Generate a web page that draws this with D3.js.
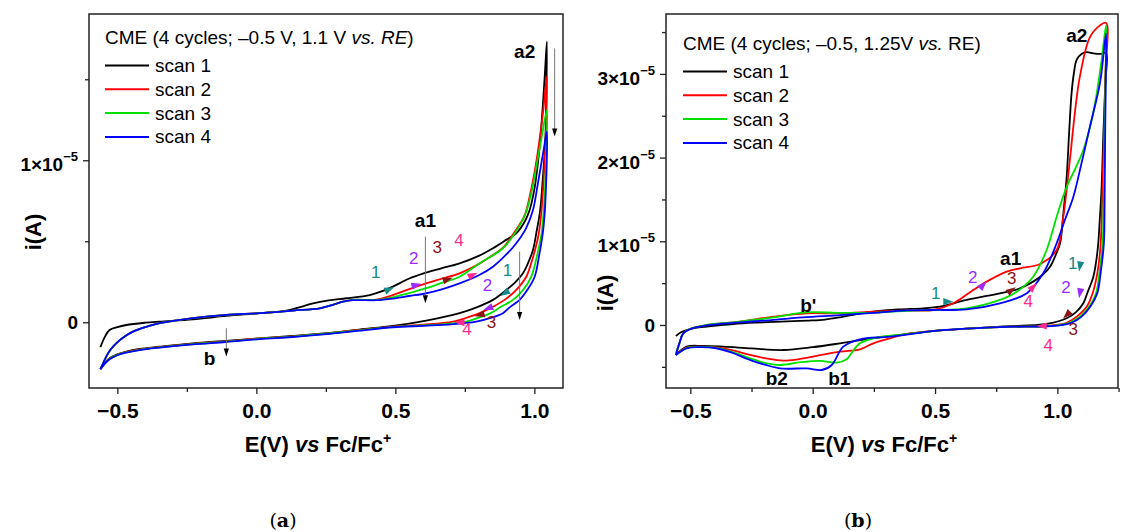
<!DOCTYPE html>
<html><head><meta charset="utf-8">
<script src="https://cdn.jsdelivr.net/npm/d3@7"></script>
<style>body{margin:0;background:#fff}svg{display:block}</style>
</head><body>
<svg id="chart" width="1123" height="532"></svg>
<script>
// ---------- DATA (current i in units of 1e-5 A, potential E in V vs Fc/Fc+) ----------
const scanNames = ["scan 1", "scan 2", "scan 3", "scan 4"];
const scanColors = ["#000000", "#ff0000", "#00e000", "#0000ff"];
const markColors = {1: "#188a8a", 2: "#9a2cff", 3: "#8b1414", 4: "#ff2a90"};

const xTickMajor = [-0.5, 0.0, 0.5, 1.0];
const xTickLabels = ["\u22120.5", "0.0", "0.5", "1.0"];
const xTickMinorA = [-0.25, 0.25, 0.75];
const xTickMinorB = [-0.25, 0.25, 0.75, 1.25];

const yTickMajorA = [0, 1];
const yTickMinorA = [0.5, 1.5];
const yTickMajorB = [0, 1, 2, 3];
const yTickMinorB = [-0.5, 0.5, 1.5, 2.5, 3.5];

// Panel (a): -0.5 V .. 1.1 V vs RE
const a_scan1 = [[-0.561,-0.154],[-0.545,-0.09],[-0.528,-0.048],[-0.50,-0.03],[-0.468,-0.017],[-0.40,-0.003],[-0.348,0.004],[-0.228,0.018],[-0.108,0.039],[0.012,0.056],[0.108,0.072],[0.16,0.095],[0.204,0.117],[0.26,0.135],[0.324,0.148],[0.408,0.168],[0.45,0.19],[0.491,0.22],[0.55,0.27],[0.599,0.30],[0.66,0.33],[0.731,0.364],[0.80,0.41],[0.851,0.457],[0.90,0.51],[0.935,0.549],[0.965,0.62],[0.983,0.693],[1.0,0.82],[1.009,0.93],[1.017,1.05],[1.025,1.207],[1.032,1.38],[1.038,1.54],[1.045,1.732],
 [1.043,1.40],[1.039,1.105],[1.030,0.88],[1.021,0.693],[1.008,0.56],[0.995,0.446],[0.976,0.36],[0.959,0.302],[0.93,0.245],[0.899,0.199],[0.851,0.138],[0.79,0.09],[0.731,0.056],[0.611,0.010],[0.491,-0.023],[0.37,-0.045],[0.252,-0.068],[0.13,-0.085],[0.012,-0.099],[-0.11,-0.115],[-0.228,-0.130],[-0.348,-0.151],[-0.42,-0.165],[-0.468,-0.181],[-0.50,-0.198],[-0.528,-0.222],[-0.545,-0.25],[-0.561,-0.29]];
const a_scan2 = [[-0.561,-0.29],[-0.55,-0.25],[-0.54,-0.212],[-0.525,-0.17],[-0.504,-0.13],[-0.475,-0.09],[-0.444,-0.058],[-0.40,-0.03],[-0.348,-0.006],[-0.228,0.025],[-0.108,0.045],[0.012,0.056],[0.132,0.072],[0.228,0.086],[0.28,0.11],[0.312,0.127],[0.348,0.138],[0.432,0.14],[0.491,0.168],[0.55,0.205],[0.611,0.24],[0.67,0.27],[0.731,0.302],[0.79,0.35],[0.851,0.415],[0.887,0.46],[0.93,0.56],[0.965,0.66],[0.986,0.80],[1.003,0.95],[1.018,1.12],[1.032,1.31],[1.045,1.516],
 [1.041,1.15],[1.034,0.90],[1.026,0.693],[1.015,0.54],[1.0,0.43],[0.985,0.345],[0.971,0.281],[0.935,0.20],[0.893,0.138],[0.85,0.095],[0.803,0.056],[0.76,0.03],[0.707,0.004],[0.60,-0.015],[0.491,-0.027],[0.37,-0.048],[0.252,-0.07],[0.13,-0.088],[0.012,-0.10],[-0.11,-0.118],[-0.228,-0.133],[-0.348,-0.153],[-0.42,-0.168],[-0.468,-0.184],[-0.50,-0.20],[-0.528,-0.225],[-0.545,-0.252],[-0.561,-0.29]];
const a_scan3 = [[-0.561,-0.29],[-0.55,-0.25],[-0.54,-0.212],[-0.525,-0.17],[-0.504,-0.13],[-0.475,-0.09],[-0.444,-0.058],[-0.40,-0.03],[-0.348,-0.006],[-0.228,0.025],[-0.108,0.045],[0.012,0.056],[0.132,0.072],[0.228,0.086],[0.28,0.11],[0.312,0.127],[0.348,0.138],[0.432,0.138],[0.491,0.154],[0.55,0.18],[0.611,0.21],[0.67,0.245],[0.731,0.281],[0.80,0.36],[0.887,0.457],[0.93,0.55],[0.968,0.67],[0.992,0.82],[1.008,0.97],[1.025,1.13],[1.045,1.31],
 [1.043,1.05],[1.039,0.85],[1.034,0.693],[1.026,0.55],[1.012,0.43],[0.989,0.281],[0.96,0.20],[0.923,0.138],[0.88,0.095],[0.843,0.056],[0.80,0.028],[0.755,0.004],[0.65,-0.015],[0.491,-0.029],[0.37,-0.05],[0.252,-0.071],[0.13,-0.089],[0.012,-0.102],[-0.11,-0.12],[-0.228,-0.135],[-0.348,-0.155],[-0.42,-0.17],[-0.468,-0.186],[-0.50,-0.202],[-0.528,-0.227],[-0.545,-0.254],[-0.561,-0.29]];
const a_scan4 = [[-0.561,-0.29],[-0.55,-0.25],[-0.54,-0.212],[-0.525,-0.17],[-0.504,-0.13],[-0.475,-0.09],[-0.444,-0.058],[-0.40,-0.03],[-0.348,-0.006],[-0.228,0.025],[-0.108,0.045],[0.012,0.056],[0.132,0.072],[0.228,0.086],[0.28,0.11],[0.312,0.127],[0.348,0.136],[0.432,0.136],[0.491,0.146],[0.55,0.162],[0.611,0.179],[0.67,0.205],[0.731,0.24],[0.80,0.29],[0.851,0.343],[0.90,0.42],[0.935,0.488],[0.97,0.58],[0.995,0.693],[1.012,0.85],[1.025,0.98],[1.035,1.08],[1.045,1.177],
 [1.044,0.95],[1.041,0.80],[1.038,0.693],[1.031,0.56],[1.018,0.42],[1.001,0.281],[0.975,0.20],[0.947,0.138],[0.91,0.09],[0.887,0.056],[0.84,0.025],[0.791,0.004],[0.70,-0.013],[0.60,-0.022],[0.491,-0.031],[0.37,-0.052],[0.252,-0.073],[0.13,-0.091],[0.012,-0.104],[-0.11,-0.122],[-0.228,-0.137],[-0.348,-0.157],[-0.42,-0.172],[-0.468,-0.188],[-0.50,-0.204],[-0.528,-0.229],[-0.545,-0.256],[-0.561,-0.29]];

// Panel (b): -0.5 V .. 1.25 V vs RE
const b_scan1 = [[-0.559,-0.131],[-0.54,-0.09],[-0.515,-0.06],[-0.48,-0.035],[-0.433,-0.018],[-0.324,0.012],[-0.229,0.028],[-0.025,0.052],[0.05,0.065],[0.112,0.092],[0.18,0.13],[0.248,0.159],[0.35,0.185],[0.452,0.199],[0.52,0.22],[0.629,0.299],[0.765,0.379],[0.84,0.43],[0.901,0.518],[0.94,0.60],[0.970,0.697],[0.995,0.85],[1.011,0.976],[1.025,1.35],[1.038,1.77],[1.048,2.3],[1.058,2.77],[1.068,3.02],[1.079,3.17],[1.10,3.24],[1.12,3.26],[1.14,3.25],[1.161,3.24],[1.18,3.24],[1.199,3.25],
 [1.196,2.9],[1.188,2.29],[1.18,1.6],[1.172,1.2],[1.167,0.976],[1.158,0.75],[1.147,0.577],[1.122,0.379],[1.106,0.259],[1.075,0.15],[1.038,0.080],[0.956,0.012],[0.765,-0.020],[0.52,-0.065],[0.38,-0.11],[0.248,-0.157],[0.112,-0.219],[0.0,-0.265],[-0.120,-0.299],[-0.25,-0.28],[-0.365,-0.259],[-0.45,-0.25],[-0.515,-0.259],[-0.559,-0.358]];
const b_scan2 = [[-0.559,-0.358],[-0.545,-0.22],[-0.529,-0.1],[-0.50,-0.045],[-0.433,0.0],[-0.297,0.04],[-0.161,0.099],[-0.025,0.139],[0.112,0.139],[0.248,0.159],[0.384,0.175],[0.493,0.179],[0.575,0.259],[0.656,0.418],[0.711,0.518],[0.793,0.637],[0.847,0.677],[0.929,0.729],[0.997,0.896],[1.024,1.294],[1.051,1.97],[1.072,2.55],[1.092,2.97],[1.133,3.44],[1.174,3.58],[1.199,3.61],
 [1.196,3.0],[1.19,2.2],[1.183,1.5],[1.177,0.976],[1.165,0.65],[1.144,0.379],[1.12,0.22],[1.079,0.10],[1.04,0.03],[0.997,0.0],[0.94,-0.015],[0.765,-0.025],[0.52,-0.065],[0.38,-0.11],[0.316,-0.159],[0.248,-0.219],[0.193,-0.291],[0.112,-0.319],[0.016,-0.370],[-0.06,-0.41],[-0.120,-0.426],[-0.19,-0.40],[-0.256,-0.358],[-0.33,-0.30],[-0.40,-0.265],[-0.465,-0.26],[-0.515,-0.27],[-0.559,-0.358]];
const b_scan3 = [[-0.559,-0.358],[-0.545,-0.22],[-0.529,-0.1],[-0.50,-0.045],[-0.433,0.0],[-0.297,0.04],[-0.161,0.09],[-0.093,0.125],[-0.025,0.151],[0.112,0.145],[0.248,0.145],[0.384,0.17],[0.493,0.179],[0.629,0.199],[0.765,0.299],[0.834,0.398],[0.901,0.577],[0.956,0.896],[0.997,1.294],[1.038,1.65],[1.075,1.88],[1.106,2.09],[1.14,2.45],[1.161,2.77],[1.18,3.15],[1.199,3.58],
 [1.197,3.0],[1.193,2.2],[1.189,1.5],[1.185,0.976],[1.173,0.65],[1.158,0.379],[1.13,0.22],[1.092,0.10],[1.05,0.03],[1.011,0.0],[0.95,-0.015],[0.765,-0.025],[0.52,-0.065],[0.38,-0.11],[0.248,-0.159],[0.193,-0.219],[0.16,-0.33],[0.139,-0.41],[0.098,-0.450],[0.03,-0.430],[-0.05,-0.445],[-0.134,-0.478],[-0.20,-0.45],[-0.256,-0.398],[-0.33,-0.32],[-0.40,-0.27],[-0.465,-0.262],[-0.515,-0.275],[-0.559,-0.358]];
const b_scan4 = [[-0.559,-0.358],[-0.545,-0.22],[-0.529,-0.1],[-0.50,-0.05],[-0.433,-0.005],[-0.297,0.03],[-0.161,0.06],[-0.093,0.08],[0.112,0.119],[0.248,0.145],[0.384,0.175],[0.493,0.179],[0.629,0.187],[0.765,0.259],[0.875,0.379],[0.942,0.617],[0.997,0.976],[1.03,1.25],[1.065,1.53],[1.10,1.95],[1.133,2.37],[1.174,2.89],[1.199,3.48],
 [1.198,3.0],[1.195,2.2],[1.193,1.5],[1.190,0.976],[1.178,0.65],[1.163,0.379],[1.135,0.22],[1.099,0.10],[1.06,0.03],[1.024,0.0],[0.96,-0.015],[0.765,-0.025],[0.52,-0.065],[0.316,-0.139],[0.193,-0.171],[0.125,-0.259],[0.078,-0.478],[0.037,-0.538],[-0.025,-0.518],[-0.134,-0.518],[-0.256,-0.418],[-0.33,-0.33],[-0.40,-0.275],[-0.465,-0.265],[-0.515,-0.28],[-0.559,-0.358]];

// annotations: [label, E, i]
const a_peakLabels = [["a2",0.965,1.67],["a1",0.608,0.63],["b",-0.168,-0.222]];
const a_guideArrows = [[1.073,1.69,1.146],[0.608,0.528,0.117],[0.947,0.436,0.014],[-0.108,-0.037,-0.212]]; // E, from i, to i
const a_numLabels = [[1,0.429,0.312],[2,0.566,0.395],[3,0.651,0.467],[4,0.729,0.508],[1,0.903,0.323],[2,0.831,0.230],[3,0.846,0.004],[4,0.758,-0.043]];
const a_heads = [[1,0.479,0.204,-22],[2,0.576,0.230,-15],[3,0.689,0.265,-18],[4,0.779,0.292,-25],[1,0.893,0.179,148],[2,0.833,0.086,160],[3,0.803,0.045,165],[4,0.731,-0.002,180]]; // scan, E, i, angle(deg)

const b_peakLabels = [["a2",1.079,3.46],["a1",0.809,0.797],["b'",-0.018,0.239],["b2",-0.147,-0.637],["b1",0.109,-0.637]];
const b_guideArrows = [];
const b_numLabels = [[1,0.503,0.386],[2,0.654,0.577],[3,0.813,0.558],[4,0.881,0.287],[1,1.063,0.737],[2,1.035,0.458],[3,1.065,-0.051],[4,0.963,-0.239]];
const b_heads = [[1,0.554,0.278,0],[2,0.697,0.478,-45],[3,0.813,0.418,-35],[4,0.902,0.458,-45],[1,1.092,0.697,100],[2,1.092,0.379,100],[3,1.038,0.119,135],[4,0.936,-0.012,180]];

const legendTitleA = ["CME (4 cycles; \u20130.5 V, 1.1 V ", "vs. RE", ")"];
const legendTitleB = ["CME (4 cycles; \u20130.5, 1.25V ", "vs.", " RE)"];

// ---------- DRAWING ----------
const svg = d3.select("#chart");
const FONT = "'Liberation Sans', Arial, sans-serif";

function drawPanel(p) {
  const g = svg.append("g");
  const x = d3.scaleLinear().domain(p.xDomain).range([p.left, p.right]);
  const y = d3.scaleLinear().domain(p.yDomain).range([p.bottom, p.top]);
  const clipId = "clip" + p.id;
  svg.append("clipPath").attr("id", clipId).append("rect")
    .attr("x", p.left).attr("y", p.top).attr("width", p.right - p.left).attr("height", p.bottom - p.top);

  const line = d3.line().x(d => x(d[0])).y(d => y(d[1])).curve(d3.curveCatmullRom.alpha(0.5));
  const curves = g.append("g").attr("clip-path", `url(#${clipId})`);
  p.scans.forEach((s, k) => {
    curves.append("path").attr("d", line(s)).attr("fill", "none")
      .attr("stroke", scanColors[k]).attr("stroke-width", 1.8).attr("stroke-linejoin", "round");
  });

  // x axis
  const xAxis = d3.axisBottom(x).tickValues(xTickMajor).tickSize(6)
    .tickFormat((d, i) => xTickLabels[i]);
  const xa = g.append("g").attr("transform", `translate(0,${p.bottom})`).call(xAxis);
  const xm = g.append("g").attr("transform", `translate(0,${p.bottom})`)
    .call(d3.axisBottom(x).tickValues(p.xMinor).tickSize(4).tickFormat(""));
  [xa, xm].forEach(a => { a.select(".domain").remove(); a.selectAll("line").attr("stroke", "#222").attr("stroke-width", 1.3); });
  xa.selectAll("text").attr("font-family", FONT).attr("font-weight", "bold").attr("font-size", 21)
    .attr("fill", "#000").attr("dy", null).attr("y", 30);

  // y axis
  const ya = g.append("g").attr("transform", `translate(${p.left},0)`)
    .call(d3.axisLeft(y).tickValues(p.yMajor).tickSize(6).tickFormat(""));
  const ym = g.append("g").attr("transform", `translate(${p.left},0)`)
    .call(d3.axisLeft(y).tickValues(p.yMinor).tickSize(4).tickFormat(""));
  [ya, ym].forEach(a => { a.select(".domain").remove(); a.selectAll("line").attr("stroke", "#222").attr("stroke-width", 1.3); });
  p.yMajor.forEach(v => {
    const t = g.append("text").attr("x", p.left - 11).attr("text-anchor", "end")
      .attr("font-family", FONT).attr("font-weight", "bold").attr("font-size", 19).attr("fill", "#000");
    if (v === 0) {
      t.attr("y", y(v) + 7).text("0");
    } else {
      t.attr("y", y(v) + 11);
      t.append("tspan").text(v + "\u00d710");
      t.append("tspan").attr("font-size", 13).attr("dy", -10).text("\u22125");
    }
  });

  // frame
  g.append("rect").attr("x", p.left).attr("y", p.top).attr("width", p.right - p.left).attr("height", p.bottom - p.top)
    .attr("fill", "none").attr("stroke", "#222").attr("stroke-width", 1.5);

  // axis titles
  const xt = g.append("text").attr("x", (p.left + p.right) / 2 - 8).attr("y", p.bottom + 64)
    .attr("text-anchor", "middle").attr("font-family", FONT).attr("font-weight", "bold").attr("font-size", 22).attr("fill", "#000");
  xt.append("tspan").text("E(V) ");
  xt.append("tspan").attr("font-style", "italic").text("vs");
  xt.append("tspan").text(" Fc/Fc");
  xt.append("tspan").attr("font-size", 14).attr("dy", -9).text("+");
  g.append("text").attr("transform", `translate(${p.yTitleX},${p.yTitleY}) rotate(-90)`)
    .attr("text-anchor", "middle").attr("dy", "0.35em").attr("font-family", FONT).attr("font-weight", "bold")
    .attr("font-size", 22).attr("fill", "#000").text("i(A)");

  // caption
  const cap = svg.append("text").attr("x", p.capX).attr("y", 527).attr("text-anchor", "middle")
    .attr("font-family", "'DejaVu Serif', 'Liberation Serif', serif").attr("font-size", 19).attr("fill", "#000");
  cap.append("tspan").text("(");
  cap.append("tspan").attr("font-weight", "bold").text(p.caption);
  cap.append("tspan").text(")");

  // legend
  const lt = g.append("text").attr("x", p.legX).attr("y", p.legY).attr("font-family", FONT)
    .attr("font-size", 19).attr("fill", "#000");
  lt.append("tspan").text(p.legTitle[0]);
  lt.append("tspan").attr("font-style", "italic").text(p.legTitle[1]);
  lt.append("tspan").text(p.legTitle[2]);
  scanNames.forEach((n, k) => {
    const yy = p.legY + 22 + k * 23.8;
    g.append("line").attr("x1", p.legX).attr("x2", p.legX + 44).attr("y1", yy).attr("y2", yy)
      .attr("stroke", scanColors[k]).attr("stroke-width", 2);
    g.append("text").attr("x", p.legX + 50).attr("y", yy + 6.5).attr("font-family", FONT)
      .attr("font-size", 19).attr("fill", "#000").text(n);
  });

  // guide arrows (thin grey with black head)
  p.guides.forEach(([e, i0, i1]) => {
    const X = x(e), Y0 = y(i0), Y1 = y(i1);
    g.append("line").attr("x1", X).attr("x2", X).attr("y1", Y0).attr("y2", Y1 - 6)
      .attr("stroke", "#777").attr("stroke-width", 1);
    g.append("path").attr("d", `M${X - 2.6},${Y1 - 8}L${X + 2.6},${Y1 - 8}L${X},${Y1}Z`).attr("fill", "#000");
  });

  // peak labels
  p.peaks.forEach(([t, e, i]) => {
    g.append("text").attr("x", x(e)).attr("y", y(i)).attr("dy", "0.35em").attr("text-anchor", "middle")
      .attr("font-family", FONT).attr("font-weight", "bold").attr("font-size", 19).attr("fill", "#000").text(t);
  });
  // scan number labels
  p.nums.forEach(([n, e, i]) => {
    g.append("text").attr("x", x(e)).attr("y", y(i)).attr("dy", "0.35em").attr("text-anchor", "middle")
      .attr("font-family", FONT).attr("font-size", 17).attr("fill", markColors[n]).text(n);
  });
  // arrowheads on curves
  p.heads.forEach(([n, e, i, a]) => {
    g.append("path").attr("d", "M5,0L-5,-3.6L-5,3.6Z")
      .attr("transform", `translate(${x(e)},${y(i)}) rotate(${a})`).attr("fill", markColors[n]);
  });
}

drawPanel({
  id: "A", left: 89, right: 563, top: 14, bottom: 388,
  xDomain: [-0.602, 1.103], yDomain: [-0.406, 1.903],
  xMinor: xTickMinorA, yMajor: yTickMajorA, yMinor: yTickMinorA,
  scans: [a_scan1, a_scan2, a_scan3, a_scan4],
  yTitleX: 33, yTitleY: 232, capX: 283, caption: "a",
  legX: 105, legY: 43.5, legTitle: legendTitleA,
  guides: a_guideArrows, peaks: a_peakLabels, nums: a_numLabels, heads: a_heads
});
drawPanel({
  id: "B", left: 666, right: 1118, top: 14, bottom: 388,
  xDomain: [-0.5995, 1.2477], yDomain: [-0.753, 3.716],
  xMinor: xTickMinorB, yMajor: yTickMajorB, yMinor: yTickMinorB,
  scans: [b_scan1, b_scan2, b_scan3, b_scan4],
  yTitleX: 605, yTitleY: 293, capX: 858, caption: "b",
  legX: 683, legY: 49.5, legTitle: legendTitleB,
  guides: b_guideArrows, peaks: b_peakLabels, nums: b_numLabels, heads: b_heads
});
</script>
</body></html>
